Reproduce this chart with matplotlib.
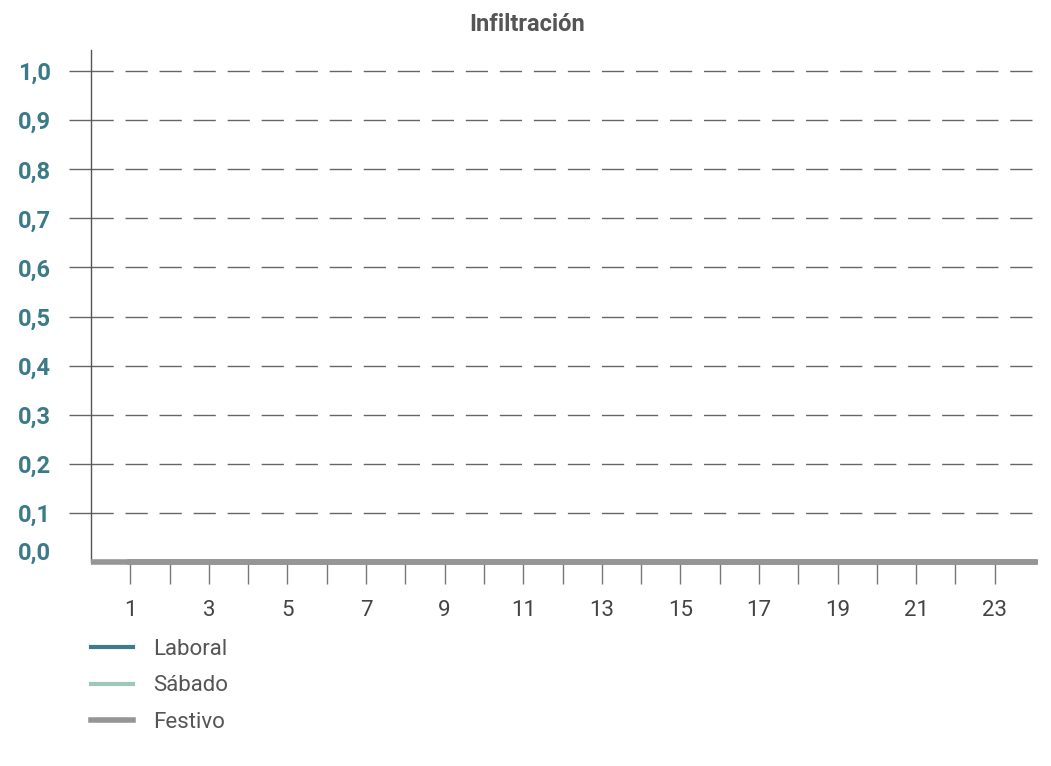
import matplotlib
matplotlib.use("Agg")
import matplotlib.pyplot as plt
import matplotlib.transforms as mtransforms

# Datos: infiltración horaria (todas las curvas a cero)
hours = list(range(1, 25))
laboral = [0.0, 0.0, 0.0, 0.0, 0.0, 0.0, 0.0, 0.0, 0.0, 0.0, 0.0, 0.0,
           0.0, 0.0, 0.0, 0.0, 0.0, 0.0, 0.0, 0.0, 0.0, 0.0, 0.0, 0.0]
sabado = [0.0, 0.0, 0.0, 0.0, 0.0, 0.0, 0.0, 0.0, 0.0, 0.0, 0.0, 0.0,
          0.0, 0.0, 0.0, 0.0, 0.0, 0.0, 0.0, 0.0, 0.0, 0.0, 0.0, 0.0]
festivo = [0.0, 0.0, 0.0, 0.0, 0.0, 0.0, 0.0, 0.0, 0.0, 0.0, 0.0, 0.0,
           0.0, 0.0, 0.0, 0.0, 0.0, 0.0, 0.0, 0.0, 0.0, 0.0, 0.0, 0.0]
y_ticks = [0.0, 0.1, 0.2, 0.3, 0.4, 0.5, 0.6, 0.7, 0.8, 0.9, 1.0]
x_ticks = list(range(1, 24))

plt.rcParams['font.family'] = ['Roboto', 'DejaVu Sans']

fig = plt.figure(figsize=(10.51, 7.66), dpi=100)
ax = fig.add_axes([0.0866, 0.2663, 0.9010, 0.6684])

ax.plot(hours, laboral, color='#3d7a8a', lw=3, label='Laboral', clip_on=False, zorder=5)
ax.plot(hours, sabado, color='#9dc8b8', lw=3, label='Sábado', clip_on=False, zorder=5)
ax.plot(hours, festivo, color='#959595', lw=4, label='Festivo', clip_on=False, zorder=6)

ax.set_xlim(0, 24.1)
ax.set_ylim(0, 1.043)

# grid
ax.set_yticks(y_ticks)
ax.set_yticklabels([f"{v:.1f}".replace('.', ',') for v in y_ticks],
                   fontsize=17, fontweight='bold', color='#3a7a89')
ax.yaxis.grid(True, color='#666666', lw=1, linestyle=(0, (16, 8.5)))
ax.tick_params(axis='y', length=16, width=1, color='#666666', pad=13)
# la etiqueta 0,0 va algo por encima del eje y sin marca
lbl0 = ax.get_yticklabels()[0]
lbl0.set_transform(lbl0.get_transform() +
                   mtransforms.ScaledTranslation(0, 8 / 72, fig.dpi_scale_trans))
ax.yaxis.get_major_ticks()[0].tick1line.set_visible(False)

ax.set_xticks(x_ticks)
ax.set_xticklabels([str(h) if h % 2 == 1 else '' for h in x_ticks],
                   fontsize=16, color='#444444')
ax.tick_params(axis='x', length=16, width=1, color='#777777', pad=11)

for s in ['top', 'right']:
    ax.spines[s].set_visible(False)
ax.spines['left'].set_color('#555555')
ax.spines['left'].set_linewidth(1)
ax.spines['bottom'].set_color('#959595')
ax.spines['bottom'].set_linewidth(4)
ax.spines['bottom'].set_capstyle('butt')

fig.text(0.5015, 0.968, 'Infiltración', fontsize=17, fontweight='bold',
         color='#555555', ha='center', va='center')

leg = ax.legend(loc='upper left', bbox_to_anchor=(0.0866, 0.166),
                bbox_transform=fig.transFigure, frameon=False, fontsize=16,
                handlelength=1.9, handletextpad=0.9, labelspacing=0.7,
                borderaxespad=0, borderpad=0)
for t in leg.get_texts():
    t.set_color('#555555')

fig.savefig('out.png', dpi=100)
